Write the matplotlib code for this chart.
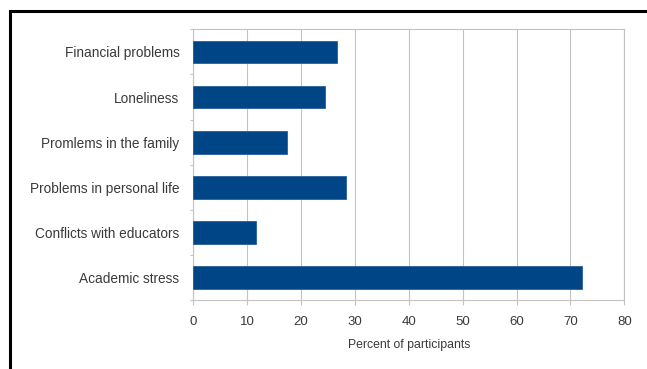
import matplotlib
matplotlib.use("Agg")
import matplotlib.pyplot as plt
from matplotlib.lines import Line2D
import numpy as np

categories = ["Academic stress", "Conflicts with educators", "Problems in personal life",
              "Promlems in the family", "Loneliness", "Financial problems"]
values = [72.2, 11.7, 28.3, 17.3, 24.4, 26.6]
xticks = [0, 10, 20, 30, 40, 50, 60, 70, 80]

plt.rcParams['font.family'] = ['Liberation Sans', 'DejaVu Sans']

W, H = 647, 369
fig = plt.figure(figsize=(W / 100, H / 100), dpi=100)
ax = fig.add_axes([193.3 / W, (H - 300.3) / H, 431 / W, 271 / H])

pos = np.arange(len(categories))
ax.barh(pos, values, height=0.5, color="#004586", edgecolor="#2a5f9a", linewidth=0.6, zorder=3)
ax.set_xlim(0, 80)
ax.set_ylim(-0.5, len(categories) - 0.5)
ax.set_xticks(xticks)
ax.set_xticklabels([str(t) for t in xticks])
ax.set_yticks(pos)
ax.set_yticklabels(categories)
ax.set_yticks(np.arange(-0.5, len(categories)), minor=True)

gcol = "#c3c3c3"
tcol = "#3a3a3a"
ax.grid(axis="x", color=gcol, linewidth=0.8, zorder=0)
for s in ax.spines.values():
    s.set_color(gcol)
    s.set_linewidth(0.8)
ax.tick_params(axis="x", length=3.5, width=0.8, color=gcol, pad=8, labelsize=9.5, labelcolor=tcol)
ax.tick_params(axis="y", which="major", length=0, pad=10, labelsize=9.8, labelcolor=tcol)
ax.tick_params(axis="y", which="minor", length=2.5, width=0.8, color=gcol)
ax.set_xlabel("Percent of participants", fontsize=8.8, color=tcol, labelpad=8)

# outer black frame (top and left edges)
fig.add_artist(Line2D([9.5 / W, 9.5 / W, 1.0], [0.0, (H - 11) / H, (H - 11) / H],
                      transform=fig.transFigure, color="black", linewidth=2.2,
                      solid_joinstyle="miter"))

fig.savefig("out.png", dpi=100)
